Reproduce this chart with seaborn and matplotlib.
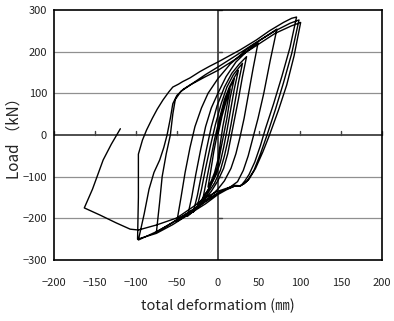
import matplotlib
matplotlib.use("Agg")
import matplotlib.pyplot as plt
import matplotlib.transforms as mtransforms
import pandas as pd
import seaborn as sns

# Cyclic load-deformation record (one continuous path, in test order)
deformation_mm = [
    # cycle 1
    0, 5, 10, 15,
    10, 6, 3, 0, -4, -8, -12,
    # cycle 2
    -9, -5, 0, 5, 10, 15, 20,
    15, 11, 7, 3, 0, -5, -11, -18,
    # cycle 3
    -14, -9, -4, 2, 8, 14, 20, 25,
    20, 15, 11, 7, 3, -2, -10, -18, -25,
    # cycle 4
    -20, -15, -9, -3, 4, 11, 19, 25, 30,
    25, 20, 16, 12, 8, 3, -4, -14, -22, -30,
    # cycle 5
    -25, -20, -14, -8, -1, 8, 17, 26, 35,
    30, 25, 20, 16, 12, 7, 0, -8, -18, -28, -37,
    # cycle 6
    -32, -27, -21, -15, -8, 0, 10, 22, 35, 49,
    43, 37, 32, 27, 22, 16, 8, 0, -12, -25, -38, -50,
    # cycle 7
    -45, -40, -34, -28, -20, -12, 0, 15, 35, 55, 72,
    64, 56, 49, 43, 37, 31, 24, 15, 5, -5, -20, -35, -50, -62, -75,
    # cycle 8
    -71, -68, -63, -58, -55, -52, -45, -32, -15, 0, 20, 45, 70, 90, 101,
    93, 84, 74, 63, 55, 46, 38, 32, 27, 20, 10, 0, -15, -35, -55, -75, -97,
    # cycle 9
    -90, -84, -78, -71, -66, -62, -58, -55, -50, -42, -30, -15, 0, 20, 45, 70, 88, 99,
    90, 80, 70, 60, 52, 44, 36, 31, 27, 20, 10, 0, -15, -35, -55, -75, -98,
    # cycle 10 and failure
    -97, -97, -92, -87, -80, -74, -67, -60, -55, -48, -43, -34, -22, -10, 0, 14, 27, 47, 63, 80, 90, 96,
    88, 78, 68, 58, 52, 45, 38, 33, 28, 21, 12, 0, -15, -30, -50, -75, -97,
    -107, -124, -144, -163, -153, -140, -130, -120, -119,
]
load_kN = [
    # cycle 1
    0, 45, 80, 110,
    60, 20, -20, -60, -90, -110, -125,
    # cycle 2
    -90, -40, 10, 55, 90, 115, 135,
    90, 40, 0, -40, -75, -105, -130, -150,
    # cycle 3
    -110, -60, -10, 40, 85, 115, 138, 155,
    110, 55, 10, -30, -65, -95, -125, -150, -170,
    # cycle 4
    -130, -80, -25, 25, 75, 115, 145, 160, 172,
    125, 70, 25, -15, -50, -85, -115, -145, -165, -185,
    # cycle 5
    -145, -95, -35, 20, 70, 115, 148, 170, 188,
    140, 85, 35, -5, -45, -80, -110, -135, -160, -180, -195,
    # cycle 6
    -150, -95, -35, 20, 65, 100, 140, 175, 200, 221,
    160, 95, 40, -5, -45, -80, -110, -130, -152, -175, -193, -207,
    # cycle 7
    -150, -90, -30, 20, 65, 100, 135, 170, 205, 232, 254,
    180, 100, 40, -5, -50, -85, -112, -125, -135, -145, -165, -185, -203, -218, -233,
    # cycle 8
    -160, -100, -45, 0, 50, 85, 105, 122, 140, 155, 180, 212, 244, 262, 270,
    190, 120, 60, 0, -40, -80, -106, -117, -122, -123, -130, -140, -160, -185, -210, -232, -252,
    # cycle 9
    -190, -130, -90, -60, -30, 0, 40, 75, 95, 110, 125, 145, 163, 188, 220, 250, 268, 276,
    195, 125, 60, 0, -45, -85, -110, -118, -122, -123, -132, -143, -165, -190, -215, -236, -250,
    # cycle 10 and failure
    -150, -46, -12, 12, 40, 62, 84, 103, 115, 122, 128, 137, 152, 165, 175, 190, 204, 228, 250, 270, 280, 283,
    210, 140, 75, 15, -25, -65, -95, -110, -122, -121, -127, -135, -150, -172, -199, -216, -228,
    -226, -211, -192, -175, -130, -60, -22, 12, 15,
]

x_ticks = [-200, -150, -100, -50, 0, 50, 100, 150, 200]
y_ticks = [-300, -200, -100, 0, 100, 200, 300]
x_label = "total deformatiom (㎜)"
y_label = "Load （kN）"

sns.set_theme(style="white")
plt.rcParams["font.family"] = ["Noto Sans CJK KR", "DejaVu Sans"]

fig = plt.figure(figsize=(3.94, 3.21), dpi=100)
ax = fig.add_axes([0.137, 0.19, 0.832, 0.779])

# horizontal gridlines
for yv in y_ticks:
    if yv not in (0, -300, 300):
        ax.axhline(yv, color="#909090", lw=0.9, zorder=1)
# zero axes
ax.axhline(0, color="#404040", lw=1.3, zorder=1)
ax.axvline(0, color="#404040", lw=1.3, zorder=1)

# small tick marks along the zero axes
bx = mtransforms.blended_transform_factory(ax.transData, ax.transAxes)
for xv in x_ticks:
    if xv != 0:
        ax.plot([xv, xv], [0.5, 0.517], color="#404040", lw=1.0, transform=bx,
                zorder=1, clip_on=False)
by = mtransforms.blended_transform_factory(ax.transAxes, ax.transData)
for yv in y_ticks:
    if yv != 0:
        ax.plot([0.5, 0.512], [yv, yv], color="#404040", lw=1.0, transform=by,
                zorder=1)

df = pd.DataFrame({"deformation": deformation_mm, "load": load_kN})
sns.lineplot(data=df, x="deformation", y="load", sort=False, estimator=None,
             color="black", lw=1.0, ax=ax, zorder=3)

ax.set_xlim(-200, 200)
ax.set_ylim(-300, 300)
ax.set_xticks(x_ticks)
ax.set_yticks(y_ticks)
ax.set_xticklabels([f"{v:d}".replace("-", "−") for v in x_ticks])
ax.set_yticklabels([f"{v:d}".replace("-", "−") for v in y_ticks])
ax.tick_params(axis="x", length=0, pad=13, labelsize=8, labelcolor="#222222")
ax.tick_params(axis="y", length=0, pad=5, labelsize=8, labelcolor="#222222")
ax.set_xlabel(x_label, fontsize=10.5, color="#222222", va="center")
ax.set_ylabel(y_label, fontsize=11, color="#222222", va="center")
ax.xaxis.set_label_coords(0.5, -0.183)
ax.yaxis.set_label_coords(-0.123, 0.5)

for s in ax.spines.values():
    s.set_color("black")
    s.set_linewidth(1.2)
    s.set_visible(True)

fig.savefig("out.png", dpi=100)
